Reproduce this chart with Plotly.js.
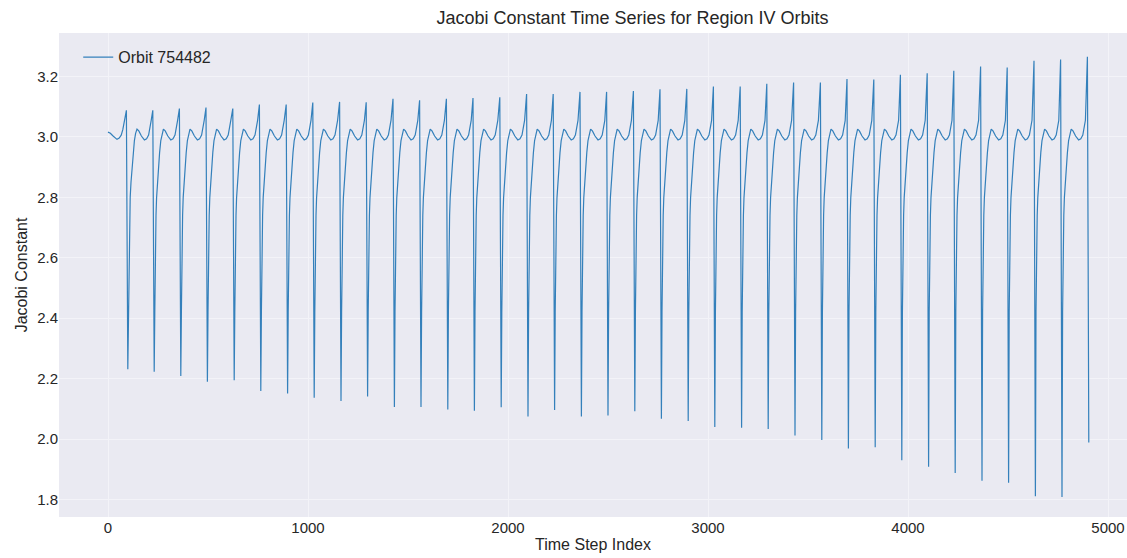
<!DOCTYPE html>
<html>
<head>
<meta charset="utf-8">
<script src="https://cdn.plot.ly/plotly-3.0.1.min.js"></script>
<style>html,body{margin:0;padding:0;background:#fff;}#chart{width:1127px;height:558px;}</style>
</head>
<body>
<div id="chart"></div>
<script>
// ---- Data ----
const seriesName = "Orbit 754482";

// lead-in before the first spike (time step, Jacobi constant)
const leadStep  = [0, 12, 24, 36, 45, 56, 66, 74, 80, 85];
const leadValue = [3.016, 3.012, 3.004, 2.995, 2.992, 2.996, 3.006, 3.024, 3.045, 3.065];

// time step of each spike peak
const peakStep = [92, 224, 357, 490, 624, 757, 891, 1024, 1158, 1291, 1425, 1558, 1692, 1825,
  1959, 2093, 2226, 2360, 2493, 2627, 2760, 2894, 3027, 3161, 3294, 3428, 3562, 3695, 3829,
  3962, 4096, 4229, 4363, 4496, 4630, 4763, 4897];

// value at each peak
const peakValue = [3.088, 3.088, 3.094, 3.097, 3.094, 3.107, 3.107, 3.114, 3.116, 3.115, 3.126,
  3.121, 3.126, 3.129, 3.131, 3.142, 3.142, 3.149, 3.149, 3.152, 3.158, 3.159, 3.167, 3.167,
  3.176, 3.180, 3.180, 3.192, 3.190, 3.206, 3.211, 3.219, 3.233, 3.230, 3.252, 3.256, 3.265];

// value at the bottom of each drop (the last one is where the record ends)
const minValue = [2.231, 2.223, 2.209, 2.190, 2.195, 2.159, 2.151, 2.137, 2.126, 2.141, 2.106,
  2.106, 2.098, 2.094, 2.105, 2.075, 2.096, 2.075, 2.078, 2.092, 2.067, 2.060, 2.040, 2.037,
  2.033, 2.012, 1.997, 1.969, 1.973, 1.930, 1.908, 1.888, 1.862, 1.855, 1.811, 1.808, 1.989];

// steps after a peak at which the drop bottoms out
const minOffset = 7;

// recovery / wiggle between spikes (steps after the peak, value)
const shapeOffset = [10, 12, 14, 16, 19, 23, 28, 34, 40, 46, 53, 62, 75, 90, 101, 111, 118, 124];
const shapeValue  = [2.42, 2.57, 2.67, 2.74, 2.80, 2.85, 2.895, 2.948, 2.988, 3.012, 3.026, 3.020,
  3.003, 2.990, 2.994, 3.006, 3.028, 3.055];

const xTicks = [0, 1000, 2000, 3000, 4000, 5000];
const yTicks = [1.8, 2.0, 2.2, 2.4, 2.6, 2.8, 3.0, 3.2];

// ---- assemble the trace ----
const xs = leadStep.slice();
const ys = leadValue.slice();
for (let k = 0; k < peakStep.length; k++) {
  xs.push(peakStep[k]); ys.push(peakValue[k]);
  xs.push(peakStep[k] + minOffset); ys.push(minValue[k]);
  if (k < peakStep.length - 1) {
    for (let j = 0; j < shapeOffset.length; j++) {
      xs.push(peakStep[k] + shapeOffset[j]);
      ys.push(shapeValue[j]);
    }
  }
}

const font = "Liberation Sans, Arial, sans-serif";
const ink = "#262626";
const trace = {
  x: xs, y: ys, type: "scatter", mode: "lines", name: seriesName,
  line: {color: "#3480bb", width: 1.2}
};

const layout = {
  width: 1127, height: 558,
  margin: {l: 59, r: 0, t: 33, b: 41, pad: 0},
  paper_bgcolor: "#ffffff",
  plot_bgcolor: "#eaeaf2",
  font: {family: font, color: ink, size: 15},
  title: {text: "Jacobi Constant Time Series for Region IV Orbits",
          font: {family: font, size: 18, color: ink},
          x: 0.537, xref: "paper", xanchor: "center", y: 0.968, yanchor: "middle"},
  showlegend: true,
  legend: {x: 0.018, y: 0.985, xanchor: "left", yanchor: "top",
           bgcolor: "rgba(0,0,0,0)", font: {family: font, size: 16, color: ink}},
  xaxis: {
    range: [-245, 5095], tickvals: xTicks, ticktext: xTicks.map(String),
    showgrid: true, gridcolor: "#f3f3f8", gridwidth: 1, zeroline: false,
    showline: false, ticks: "", tickfont: {family: font, size: 15, color: ink},
    title: {text: "Time Step Index", font: {family: font, size: 16, color: ink}, standoff: 3},
    automargin: false
  },
  yaxis: {
    range: [1.742, 3.344], tickvals: yTicks, ticktext: yTicks.map(v => v.toFixed(1)),
    showgrid: true, gridcolor: "#f3f3f8", gridwidth: 1, zeroline: false,
    showline: false, ticks: "", tickfont: {family: font, size: 15, color: ink},
    title: {text: "Jacobi Constant", font: {family: font, size: 16, color: ink}, standoff: 5},
    automargin: false
  }
};

Plotly.newPlot("chart", [trace], layout, {displayModeBar: false, staticPlot: true});
</script>
</body>
</html>
